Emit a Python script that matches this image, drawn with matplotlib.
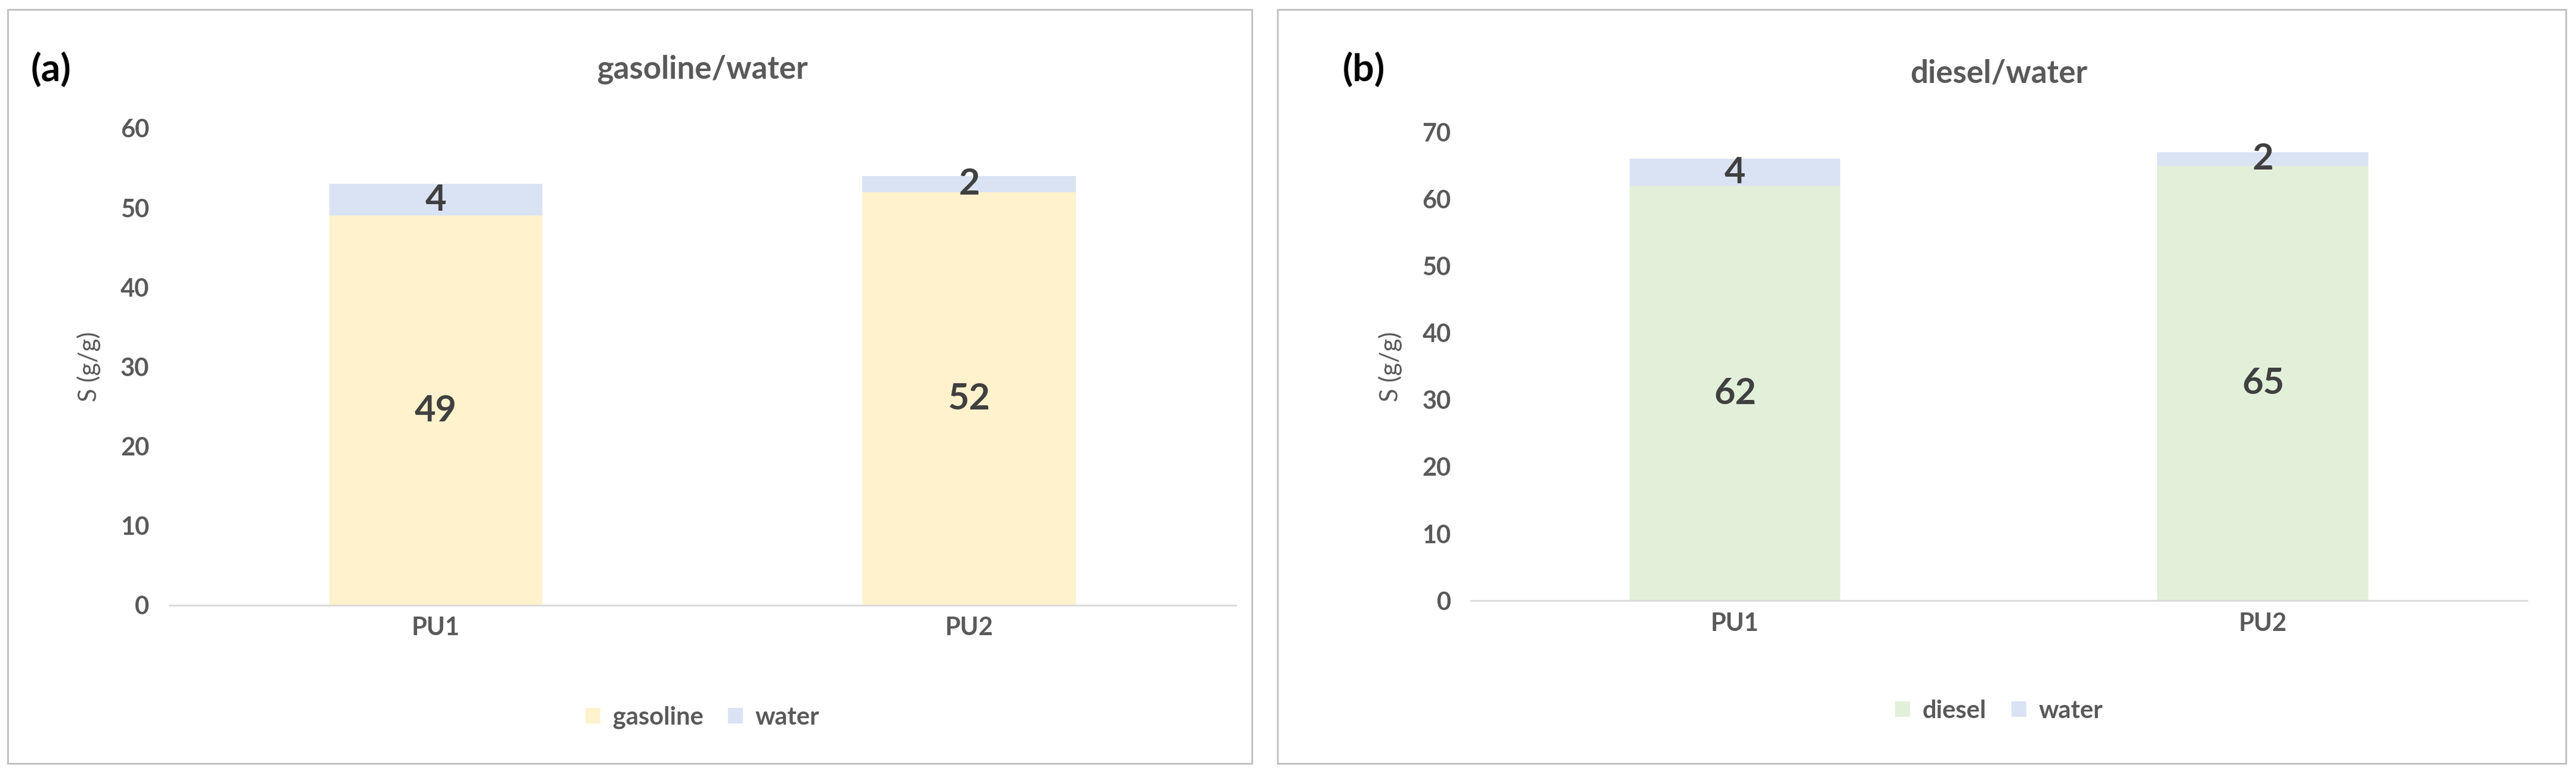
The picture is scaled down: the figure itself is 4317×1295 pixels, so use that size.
import matplotlib
matplotlib.use("Agg")
import matplotlib.pyplot as plt
from matplotlib.patches import Rectangle
import numpy as np

plt.rcParams['font.family'] = ['Lato', 'DejaVu Sans']

categories = ['PU1', 'PU2']
gasoline = [49, 52]
water_a = [4, 2]
diesel = [62, 65]
water_b = [4, 2]

GREY = '#595959'
C_GAS = '#FFF2CC'
C_DIE = '#E2F0D9'
C_WAT = '#DAE3F3'

fig = plt.figure(figsize=(43.17, 12.95), dpi=100)

# panel borders
for x0, w in [(0.003, 0.483), (0.496, 0.500)]:
    fig.add_artist(Rectangle((x0, 0.012), w, 0.976, transform=fig.transFigure,
                             fill=False, edgecolor='#BFBFBF', linewidth=2))


def panel(rect, base, water, base_color, base_name, title, tag, ymax, tag_x):
    ax = fig.add_axes(rect)
    x = np.arange(len(categories))
    b1 = ax.bar(x, base, width=0.4, color=base_color, label=base_name)
    b2 = ax.bar(x, water, width=0.4, bottom=base, color=C_WAT, label='water')
    for bars, vals, bot in [(b1, base, [0, 0]), (b2, water, base)]:
        for bar, v, b0 in zip(bars, vals, bot):
            ax.text(bar.get_x() + bar.get_width() / 2, b0 + v / 2, str(v),
                    ha='center', va='center', fontsize=44, fontweight='bold',
                    color='#404040')
    ax.set_xlim(-0.5, 1.5)
    ax.set_ylim(0, ymax)
    ax.set_yticks(np.arange(0, ymax + 1, 10))
    ax.set_xticks(x)
    ax.set_xticklabels(categories)
    ax.tick_params(axis='both', labelsize=30, colors=GREY, length=0, pad=14)
    ax.tick_params(axis='y', pad=24)
    for lbl in ax.get_xticklabels() + ax.get_yticklabels():
        lbl.set_fontweight('bold')
    for s in ['top', 'right', 'left']:
        ax.spines[s].set_visible(False)
    ax.spines['bottom'].set_color('#D9D9D9')
    ax.spines['bottom'].set_linewidth(2)
    ax.set_ylabel('S (g/g)', fontsize=30, color=GREY, labelpad=24)
    ax.set_title(title, fontsize=38, fontweight='bold', color=GREY, pad=60)
    fig.text(tag_x, 0.91, tag, fontsize=46, fontweight='bold', va='center')
    leg = ax.legend(loc='center', bbox_to_anchor=(0.5, -0.235), ncol=2, frameon=False,
                    fontsize=30, labelcolor=GREY, handlelength=0.6, handleheight=0.6,
                    columnspacing=1.0, handletextpad=0.5)
    for t in leg.get_texts():
        t.set_fontweight('bold')
    return ax


panel([0.0657, 0.217, 0.414, 0.617], gasoline, water_a, C_GAS, 'gasoline',
      'gasoline/water', '(a)', 60, 0.012)
panel([0.571, 0.223, 0.410, 0.606], diesel, water_b, C_DIE, 'diesel',
      'diesel/water', '(b)', 70, 0.521)

fig.savefig('out.png', dpi=100)
